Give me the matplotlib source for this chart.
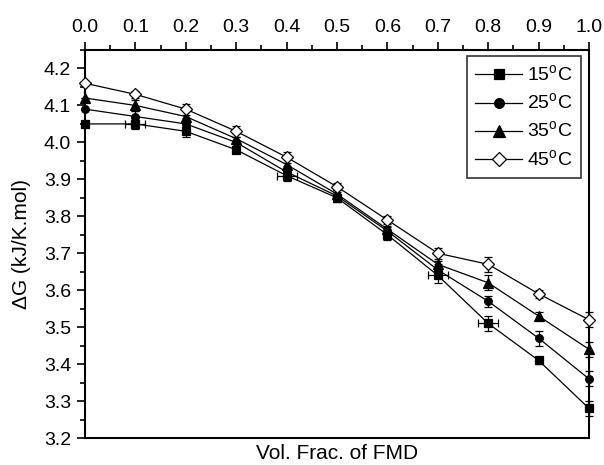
import matplotlib.pyplot as plt
from matplotlib.lines import Line2D
from matplotlib.ticker import MultipleLocator

plt.rcParams['font.family'] = ['Liberation Sans', 'DejaVu Sans']

frac = [0.0, 0.1, 0.2, 0.3, 0.4, 0.5, 0.6, 0.7, 0.8, 0.9, 1.0]
g15 = [4.05, 4.05, 4.03, 3.98, 3.91, 3.85, 3.75, 3.64, 3.51, 3.41, 3.28]
g25 = [4.09, 4.07, 4.05, 4.00, 3.92, 3.855, 3.76, 3.655, 3.57, 3.47, 3.36]
g35 = [4.12, 4.10, 4.07, 4.01, 3.94, 3.86, 3.765, 3.67, 3.62, 3.53, 3.44]
g45 = [4.16, 4.13, 4.09, 4.03, 3.96, 3.88, 3.79, 3.70, 3.67, 3.59, 3.52]
yerr15 = [0.0, 0.015, 0.015, 0.01, 0.015, 0.01, 0.015, 0.02, 0.02, 0.01, 0.02]
yerr25 = [0.0, 0.015, 0.015, 0.015, 0.015, 0.01, 0.01, 0.015, 0.015, 0.02, 0.02]
yerr35 = [0.0, 0.015, 0.015, 0.015, 0.015, 0.01, 0.01, 0.01, 0.02, 0.01, 0.02]
yerr45 = [0.0, 0.01, 0.015, 0.015, 0.015, 0.01, 0.01, 0.015, 0.02, 0.01, 0.02]
xerr15 = [0.0, 0.02, 0.0, 0.0, 0.02, 0.0, 0.0, 0.02, 0.02, 0.0, 0.0]
labels = ["15$^\\mathregular{o}$C", "25$^\\mathregular{o}$C",
          "35$^\\mathregular{o}$C", "45$^\\mathregular{o}$C"]

fig = plt.figure(figsize=(6.04, 4.65), dpi=100)
ax = fig.add_axes([85 / 604, 1 - 438 / 465, (589 - 85) / 604, (438 - 50) / 465])

series = [
    (g15, yerr15, xerr15, "s", "black", 5.5),
    (g25, yerr25, None, "o", "black", 5.5),
    (g35, yerr35, None, "^", "black", 6.5),
    (g45, yerr45, None, "D", "white", 6),
]
handles = []
for (g, ye, xe, m, fc, ms), lab in zip(series, labels):
    ax.errorbar(frac, g, yerr=ye, xerr=xe, color="black", lw=0.9,
                marker=m, mfc=fc, mec="black", ms=ms, mew=0.9,
                elinewidth=0.9, capsize=3, capthick=0.9,
                clip_on=False, zorder=3)
    handles.append(Line2D([], [], color="black", lw=0.9, marker=m, mfc=fc,
                          mec="black", ms=ms + 1.5, mew=0.9, label=lab))

ax.set_xlim(0, 1.0)
ax.set_ylim(3.2, 4.25)
ax.xaxis.set_major_locator(MultipleLocator(0.1))
ax.xaxis.set_minor_locator(MultipleLocator(0.05))
ax.yaxis.set_major_locator(MultipleLocator(0.1))
ax.yaxis.set_minor_locator(MultipleLocator(0.05))
ax.xaxis.set_major_formatter(plt.FormatStrFormatter("%.1f"))
ax.yaxis.set_major_formatter(plt.FormatStrFormatter("%.1f"))
ax.tick_params(axis="x", which="both", top=True, bottom=False,
               labeltop=True, labelbottom=False, direction="out")
ax.tick_params(axis="y", which="both", left=True, right=False, direction="out")
ax.tick_params(which="major", length=6, width=1.2, labelsize=14, pad=4)
ax.tick_params(which="minor", length=3.5, width=1.2)
for s in ax.spines.values():
    s.set_linewidth(1.5)

ax.set_xlabel("Vol. Frac. of FMD", fontsize=15, labelpad=4)
ax.set_ylabel("ΔG (kJ/K.mol)", fontsize=15, labelpad=9)

leg = ax.legend(handles=handles, loc="upper right", bbox_to_anchor=(0.984, 0.985),
                borderaxespad=0, fontsize=14, frameon=True, fancybox=False,
                edgecolor="black", handlelength=2.4, labelspacing=0.38,
                borderpad=0.45, handletextpad=0.25)
leg.get_frame().set_linewidth(1.2)

fig.savefig("out.png", dpi=100)
